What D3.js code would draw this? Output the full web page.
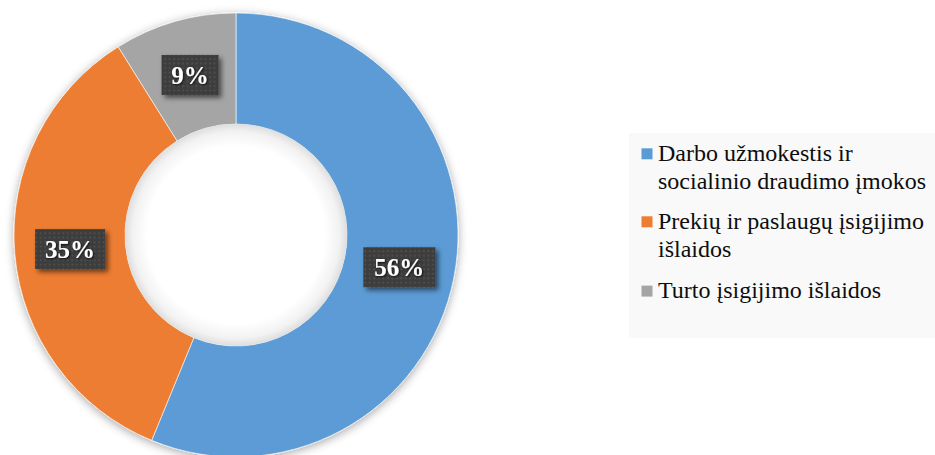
<!DOCTYPE html>
<html>
<head>
<meta charset="utf-8">
<script src="https://cdn.jsdelivr.net/npm/d3@7"></script>
<style>
  html, body { margin: 0; padding: 0; background: #ffffff; }
  svg { display: block; }
</style>
</head>
<body>
<div id="chart"></div>
<script>
// ---- data ----
const categories = [
  "Darbo užmokestis ir\nsocialinio draudimo įmokos",
  "Prekių ir paslaugų įsigijimo\nišlaidos",
  "Turto įsigijimo išlaidos"
];
const values = [56.2, 34.9, 8.9];
const colors = ["#5B9BD5", "#ED7D31", "#A5A5A5"];

// ---- layout ----
const W = 935, H = 455;
const cx = 236, cy = 235, rOuter = 222, rInner = 111;
const FONT = "'Liberation Serif', 'Times New Roman', serif";

const svg = d3.select("#chart").append("svg")
  .attr("width", W).attr("height", H);

const defs = svg.append("defs");

// outer soft shadow
const fOuter = defs.append("filter").attr("id", "outerShadow")
  .attr("x", "-20%").attr("y", "-20%").attr("width", "140%").attr("height", "140%");
fOuter.append("feDropShadow").attr("dx", 0).attr("dy", 2)
  .attr("stdDeviation", 5).attr("flood-color", "#000").attr("flood-opacity", 0.35);

// label box shadow
const fBox = defs.append("filter").attr("id", "boxShadow")
  .attr("x", "-30%").attr("y", "-30%").attr("width", "170%").attr("height", "170%");
fBox.append("feDropShadow").attr("dx", 3).attr("dy", 3)
  .attr("stdDeviation", 2.5).attr("flood-color", "#000").attr("flood-opacity", 0.55);

// text shadow
const fText = defs.append("filter").attr("id", "textShadow")
  .attr("x", "-20%").attr("y", "-20%").attr("width", "140%").attr("height", "140%");
fText.append("feDropShadow").attr("dx", 1).attr("dy", 1)
  .attr("stdDeviation", 0.8).attr("flood-color", "#000").attr("flood-opacity", 0.8);

// dotted pattern for label boxes
const pat = defs.append("pattern").attr("id", "dots")
  .attr("patternUnits", "userSpaceOnUse").attr("width", 4.5).attr("height", 4.5);
pat.append("rect").attr("width", 4.5).attr("height", 4.5).attr("fill", "#3d3d3d");
pat.append("rect").attr("x", 1.3).attr("y", 1.3).attr("width", 1.6).attr("height", 1.6)
  .attr("fill", "#565656");

// inner hole gradient
const grad = defs.append("radialGradient").attr("id", "holeGrad")
  .attr("cx", "50%").attr("cy", "50%").attr("r", "50%");
grad.append("stop").attr("offset", "0%").attr("stop-color", "#ffffff");
grad.append("stop").attr("offset", "80%").attr("stop-color", "#ffffff");
grad.append("stop").attr("offset", "93%").attr("stop-color", "#f2f2f2");
grad.append("stop").attr("offset", "100%").attr("stop-color", "#dedede");

const pie = d3.pie().sort(null).value(d => d)(values);
const arc = d3.arc().innerRadius(rInner).outerRadius(rOuter);
const labelArc = d3.arc().innerRadius((rInner + rOuter) / 2).outerRadius((rInner + rOuter) / 2);

const g = svg.append("g").attr("transform", `translate(${cx},${cy})`);

g.append("g").attr("filter", "url(#outerShadow)")
  .selectAll("path").data(pie).join("path")
  .attr("d", arc)
  .attr("fill", (d, i) => colors[i])
  .attr("stroke", "#ffffff").attr("stroke-width", 0.6);

g.append("circle").attr("r", rInner).attr("fill", "url(#holeGrad)");

// labels
const fmt = d => Math.round(d) + "%";
const boxW = [72, 70, 57], boxH = 40;
const lab = g.selectAll("g.lab").data(pie).join("g").attr("class", "lab")
  .attr("transform", d => `translate(${labelArc.centroid(d)})`);
lab.append("rect")
  .attr("x", (d, i) => -boxW[i] / 2).attr("y", -boxH / 2)
  .attr("width", (d, i) => boxW[i]).attr("height", boxH)
  .attr("fill", "url(#dots)")
  .attr("filter", "url(#boxShadow)");
lab.append("text")
  .attr("text-anchor", "middle").attr("dy", "0.35em")
  .attr("font-family", FONT)
  .attr("font-weight", "bold").attr("font-size", 25)
  .attr("fill", "#ffffff")
  .attr("filter", "url(#textShadow)")
  .text(d => fmt(d.data));

// legend
const legX = 629, legY = 133;
svg.append("rect").attr("x", legX).attr("y", legY)
  .attr("width", W - legX).attr("height", 205).attr("fill", "#f9f9f9");

const firstBaselines = [161, 229, 298.3];
const lineH = 28.3;
const leg = svg.selectAll("g.leg").data(categories).join("g").attr("class", "leg");
leg.append("rect")
  .attr("x", 641.5).attr("y", (d, i) => firstBaselines[i] - 12.7)
  .attr("width", 11).attr("height", 11)
  .attr("fill", (d, i) => colors[i]);
leg.append("text")
  .attr("font-family", FONT)
  .attr("font-size", 24).attr("fill", "#0d0d0d")
  .each(function (d, i) {
    const t = d3.select(this);
    d.split("\n").forEach((line, j) => {
      t.append("tspan").attr("x", 658).attr("y", firstBaselines[i] + j * lineH).text(line);
    });
  });
</script>
</body>
</html>
